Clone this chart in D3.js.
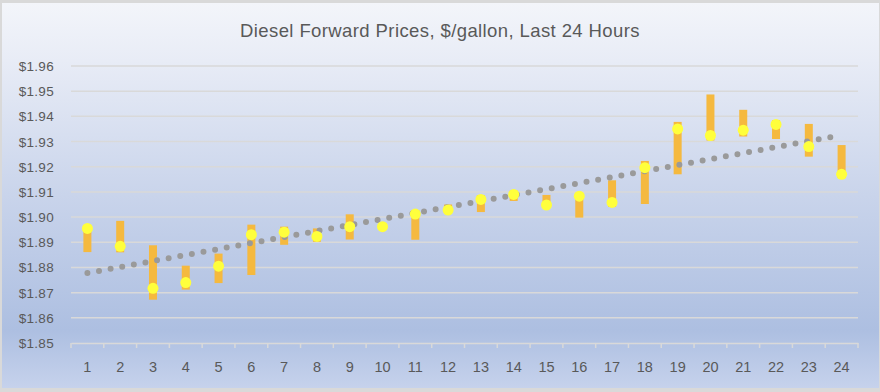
<!DOCTYPE html>
<html>
<head>
<meta charset="utf-8">
<script src="https://cdn.jsdelivr.net/npm/d3@7"></script>
<style>
  html, body { margin: 0; padding: 0; background: #d9d9d9; }
  svg { display: block; }
</style>
</head>
<body>
<script>
const hours = d3.range(1, 25);
const highs = [1.8955, 1.8985, 1.8888, 1.8807, 1.8855, 1.8970, 1.8962, 1.8955, 1.9011, 1.8975, 1.9028, 1.9050,
  1.9087, 1.9105, 1.9088, 1.9085, 1.9146, 1.9223, 1.9378, 1.9487, 1.9426, 1.9385, 1.9370, 1.9286];
const lows = [1.8861, 1.8860, 1.8672, 1.8712, 1.8738, 1.8770, 1.8890, 1.8902, 1.8911, 1.8955, 1.8910, 1.9020,
  1.9020, 1.9064, 1.9045, 1.8998, 1.9040, 1.9052, 1.9170, 1.9304, 1.9320, 1.9310, 1.9240, 1.9155];
const closes = [1.8955, 1.8884, 1.8717, 1.8740, 1.8805, 1.8930, 1.8940, 1.8923, 1.8962, 1.8962, 1.9012, 1.9028,
  1.9070, 1.9090, 1.9048, 1.9083, 1.9058, 1.9196, 1.9350, 1.9324, 1.9345, 1.9368, 1.9280, 1.9170];
const yTicks = [1.85, 1.86, 1.87, 1.88, 1.89, 1.90, 1.91, 1.92, 1.93, 1.94, 1.95, 1.96];

const W = 880, H = 392;
const margin = { left: 71, right: 22, top: 66, bottom: 49 };
const font = "Liberation Sans, Arial, sans-serif";

const svg = d3.select("body").append("svg").attr("width", W).attr("height", H);

const defs = svg.append("defs");
const grad = defs.append("linearGradient").attr("id", "bg").attr("x1", 0).attr("y1", 0).attr("x2", 0).attr("y2", 1);
grad.append("stop").attr("offset", "0%").attr("stop-color", "#f3f5fa");
grad.append("stop").attr("offset", "15%").attr("stop-color", "#e8ecf6");
grad.append("stop").attr("offset", "50%").attr("stop-color", "#c9d4eb");
grad.append("stop").attr("offset", "85%").attr("stop-color", "#adbfe1");
grad.append("stop").attr("offset", "100%").attr("stop-color", "#c6d2ec");

svg.append("rect").attr("x", 2).attr("y", 3).attr("width", W - 3).attr("height", H - 7).attr("fill", "url(#bg)");

svg.append("text")
  .attr("x", 440).attr("y", 37)
  .attr("text-anchor", "middle")
  .attr("font-family", font)
  .attr("font-size", 18.5)
  .attr("letter-spacing", 0.4)
  .attr("fill", "#595959")
  .text("Diesel Forward Prices, $/gallon, Last 24 Hours");

const x = d3.scaleBand().domain(hours).range([margin.left, W - margin.right]);
const y = d3.scaleLinear().domain([1.85, 1.96]).range([H - margin.bottom, margin.top]);

// gridlines
svg.append("g")
  .selectAll("line")
  .data(yTicks.slice(1))
  .join("line")
  .attr("x1", margin.left).attr("x2", W - margin.right)
  .attr("y1", d => y(d)).attr("y2", d => y(d))
  .attr("stroke", "#d9d9d9").attr("stroke-width", 1.5);

// y labels
svg.append("g")
  .selectAll("text")
  .data(yTicks)
  .join("text")
  .attr("x", 54).attr("y", d => y(d) + 5)
  .attr("text-anchor", "end")
  .attr("font-family", font)
  .attr("font-size", 13.5)
  .attr("letter-spacing", 0.3)
  .attr("fill", "#595959")
  .text(d => "$" + d.toFixed(2));

// x axis
const xAxis = svg.append("g")
  .attr("transform", `translate(0,${y(1.85)})`)
  .call(d3.axisBottom(x).tickSize(0).tickPadding(19));
xAxis.select(".domain").attr("stroke", "#d9d9d9").attr("stroke-width", 1.5);
xAxis.selectAll("text")
  .attr("font-family", font)
  .attr("font-size", 14.5)
  .attr("fill", "#595959");
xAxis.selectAll(".bound")
  .data(d3.range(0, 25))
  .join("line")
  .attr("class", "bound")
  .attr("x1", i => margin.left + i * x.step())
  .attr("x2", i => margin.left + i * x.step())
  .attr("y1", 0).attr("y2", 5)
  .attr("stroke", "#d9d9d9").attr("stroke-width", 1.5);

// high-low bars
const barW = 8;
svg.append("g")
  .selectAll("rect")
  .data(hours)
  .join("rect")
  .attr("x", (d, i) => x(d) + x.bandwidth() / 2 - barW / 2)
  .attr("y", (d, i) => y(highs[i]))
  .attr("width", barW)
  .attr("height", (d, i) => y(lows[i]) - y(highs[i]))
  .attr("fill", "#f5b93f");

// trendline (least squares on closes)
const mx = d3.mean(hours), my = d3.mean(closes);
const slope = d3.sum(hours, (h, i) => (h - mx) * (closes[i] - my)) / d3.sum(hours, h => (h - mx) ** 2);
const icpt = my - slope * mx;
const cx = h => x(h) + x.bandwidth() / 2;
svg.append("line")
  .attr("x1", cx(1)).attr("y1", y(icpt + slope * 1))
  .attr("x2", cx(24)).attr("y2", y(icpt + slope * 24))
  .attr("stroke", "#9a9a9a")
  .attr("stroke-width", 6)
  .attr("stroke-linecap", "round")
  .attr("stroke-dasharray", "0 11.8");

// close markers
svg.append("g")
  .selectAll("circle")
  .data(hours)
  .join("circle")
  .attr("cx", d => cx(d))
  .attr("cy", (d, i) => y(closes[i]))
  .attr("r", 5.5)
  .attr("fill", "#ffff3c");
</script>
</body>
</html>
